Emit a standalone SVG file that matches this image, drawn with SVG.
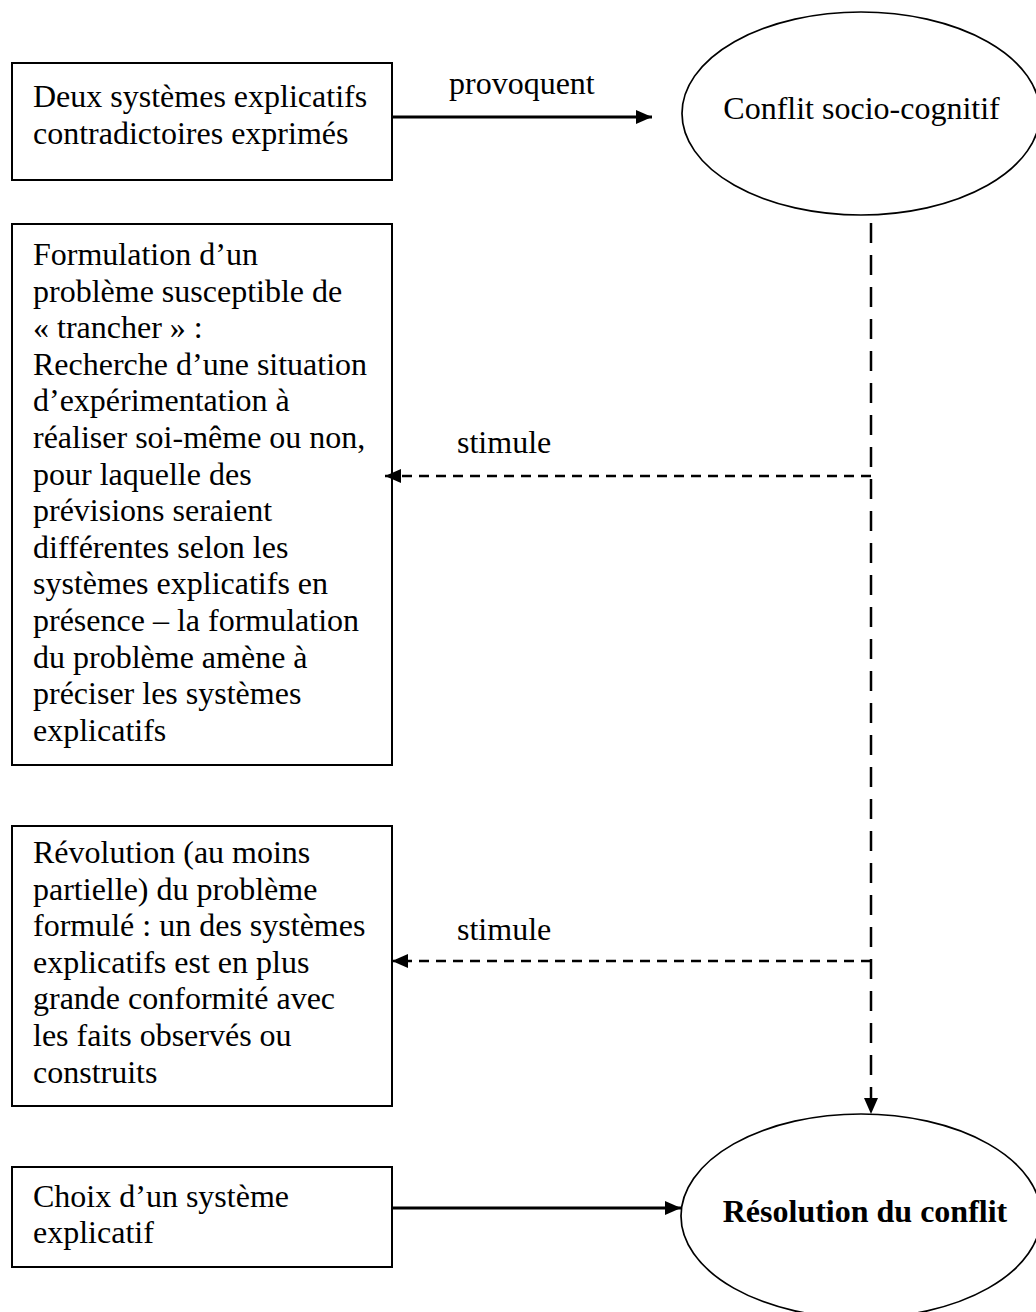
<svg xmlns="http://www.w3.org/2000/svg" width="1036" height="1312" viewBox="0 0 1036 1312">
<style>
.box{fill:#fff;stroke:#000;stroke-width:2}
.ell{fill:#fff;stroke:#000;stroke-width:1.7}
text{font-family:"Liberation Serif","Times New Roman",serif;font-size:32px;fill:#000}
.b{font-weight:bold}
.solid{stroke:#000;stroke-width:3;fill:none}
.dh{stroke:#000;stroke-width:2.5;fill:none;stroke-dasharray:10 7}
.dv{stroke:#000;stroke-width:2.5;fill:none;stroke-dasharray:20 12}
</style>
<defs>
<marker id="ah" viewBox="0 0 16 14" refX="16" refY="7" markerWidth="16" markerHeight="14" markerUnits="userSpaceOnUse" orient="auto">
<path d="M0,0 L16,7 L0,14 Z" fill="#000"/>
</marker>
</defs>
<rect width="1036" height="1312" fill="#fff"/>
<g id="n1">
<rect class="box" x="12" y="63" width="380" height="117"/>
<text x="33" y="107">Deux systèmes explicatifs</text>
<text x="33" y="143.6">contradictoires exprimés</text>
</g>
<g id="n2">
<ellipse class="ell" cx="861" cy="113.5" rx="179" ry="101.5"/>
<text x="861.5" y="119" text-anchor="middle">Conflit socio-cognitif</text>
</g>
<g id="n3">
<rect class="box" x="12" y="224" width="380" height="541"/>
<text x="33" y="265">Formulation d’un</text>
<text x="33" y="301.6">problème susceptible de</text>
<text x="33" y="338.2">« trancher » :</text>
<text x="33" y="374.8">Recherche d’une situation</text>
<text x="33" y="411.4">d’expérimentation à</text>
<text x="33" y="448">réaliser soi-même ou non,</text>
<text x="33" y="484.6">pour laquelle des</text>
<text x="33" y="521.2">prévisions seraient</text>
<text x="33" y="557.8">différentes selon les</text>
<text x="33" y="594.4">systèmes explicatifs en</text>
<text x="33" y="631">présence – la formulation</text>
<text x="33" y="667.6">du problème amène à</text>
<text x="33" y="704.2">préciser les systèmes</text>
<text x="33" y="740.8">explicatifs</text>
</g>
<g id="n4">
<rect class="box" x="12" y="826" width="380" height="280"/>
<text x="33" y="863">Révolution (au moins</text>
<text x="33" y="899.6">partielle) du problème</text>
<text x="33" y="936.2">formulé : un des systèmes</text>
<text x="33" y="972.8">explicatifs est en plus</text>
<text x="33" y="1009.4">grande conformité avec</text>
<text x="33" y="1046">les faits observés ou</text>
<text x="33" y="1082.6">construits</text>
</g>
<g id="n5">
<rect class="box" x="12" y="1167" width="380" height="100"/>
<text x="33" y="1206.7">Choix d’un système</text>
<text x="33" y="1243.3">explicatif</text>
</g>
<g id="n6">
<ellipse class="ell" cx="861" cy="1216" rx="180" ry="102"/>
<text class="b" x="865" y="1222" text-anchor="middle">Résolution du conflit</text>
</g>
<g id="connectors">
<line class="solid" x1="392" y1="117" x2="652" y2="117" marker-end="url(#ah)"/>
<text x="449" y="94">provoquent</text>
<line class="dv" x1="871" y1="223" x2="871" y2="1114" marker-end="url(#ah)"/>
<line class="dh" x1="871" y1="476" x2="385" y2="476" marker-end="url(#ah)"/>
<text x="457" y="453">stimule</text>
<line class="dh" x1="871" y1="961" x2="392" y2="961" marker-end="url(#ah)"/>
<text x="457" y="940">stimule</text>
<line class="solid" x1="392" y1="1208" x2="681" y2="1208" marker-end="url(#ah)"/>
</g>
</svg>
